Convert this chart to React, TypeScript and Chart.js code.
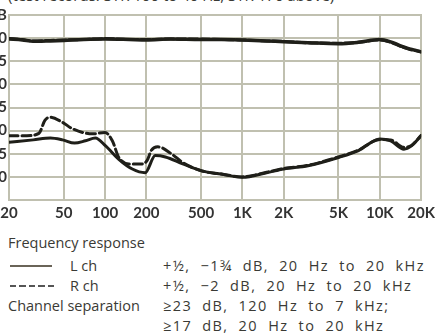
import React, { useEffect, useRef } from "react";
import { Chart, registerables } from "chart.js";

Chart.register(...registerables);

const titleText = "(test records: STR 100 to 40 Hz, STR 170 above)";

const xTickValues = [20, 50, 100, 200, 500, 1000, 2000, 5000, 10000, 20000];
const xTickLabels = ["20", "50", "100", "200", "500", "1K", "2K", "5K", "10K", "20K"];

const yTickValues = [5, 0, -5, -10, -15, -20, -25, -30, -35];
const yTickLabels = ["dB", "0", "\u22125", "\u221210", "\u221215", "\u221220", "\u221225", "\u221230", ""];

// Frequency response (upper curves)
const respFreqs = [20, 25, 30, 40, 50, 70, 100, 150, 200, 300, 500, 700, 1000, 1500, 2000, 3000, 5000, 7000, 10000, 12000, 14000, 16000, 18000, 20000];
const respL = [-0.2, -0.4, -0.7, -0.6, -0.5, -0.3, -0.2, -0.3, -0.4, -0.2, -0.3, -0.3, -0.4, -0.6, -0.8, -1.0, -1.2, -0.9, -0.3, -0.8, -1.6, -2.2, -2.6, -3.0];
const respR = [-0.1, -0.3, -0.6, -0.5, -0.4, -0.3, -0.1, -0.3, -0.3, -0.2, -0.2, -0.3, -0.4, -0.6, -0.7, -1.0, -1.1, -0.9, -0.4, -0.9, -1.7, -2.3, -2.7, -2.9];

// Channel separation (lower curves)
const sepFreqsL = [20, 30, 40, 49, 60, 72, 85, 101, 126, 158, 196, 232, 275, 368, 505, 700, 1000, 1500, 2000, 3000, 5000, 7000, 10000, 12000, 15000, 17000, 20000];
const sepL = [-22.5, -22.0, -21.6, -22.0, -22.7, -22.2, -21.6, -23.3, -26.2, -28.3, -29.1, -25.4, -25.7, -27.2, -28.7, -29.4, -30.1, -29.1, -28.3, -27.6, -25.8, -24.3, -21.8, -22.2, -24.0, -23.3, -21.1];

const sepFreqsR = [20, 27, 33, 36.5, 39.6, 49, 58, 81, 100, 113, 126, 149, 186, 202, 218, 242, 307, 368, 505, 700, 1000, 1500, 2000, 3000, 5000, 7000, 10000, 12000, 15000, 17000, 20000];
const sepR = [-21.1, -21.1, -20.6, -17.8, -17.1, -18.2, -19.6, -20.7, -20.4, -22.2, -25.8, -27.2, -27.2, -26.5, -24.2, -23.5, -25.1, -26.9, -28.7, -29.4, -30.0, -29.0, -28.2, -27.5, -25.7, -24.2, -21.9, -22.0, -23.6, -23.2, -21.0];

const LINE = "#1f1f19";
const GRID = "#c0c0b0";

function pts(xs: number[], ys: number[]) {
  return xs.map((x, i) => ({ x, y: ys[i] }));
}

// Draws the paper grid from the chart's own scales, beneath the curves (pixel-aligned 2px lines)
const paperGrid = {
  id: "paperGrid",
  beforeDatasetsDraw(chart: any) {
    const { ctx, chartArea, scales } = chart;
    const left = Math.round(chartArea.left);
    const right = Math.round(chartArea.right);
    const top = Math.round(chartArea.top);
    const bottom = Math.round(chartArea.bottom);
    ctx.save();
    ctx.strokeStyle = GRID;
    ctx.lineWidth = 2;
    ctx.lineCap = "square";
    ctx.beginPath();
    xTickValues.forEach((v) => {
      const px = Math.round(scales.x.getPixelForValue(v));
      ctx.moveTo(px, top);
      ctx.lineTo(px, bottom);
    });
    yTickValues.forEach((v) => {
      const py = Math.round(scales.y.getPixelForValue(v));
      ctx.moveTo(left, py);
      ctx.lineTo(right, py);
    });
    ctx.stroke();
    ctx.restore();
  },
};

export default function App() {
  const ref = useRef<HTMLCanvasElement | null>(null);

  useEffect(() => {
    if (!ref.current) return;
    const common = {
      showLine: true,
      pointRadius: 0,
      borderColor: LINE,
      backgroundColor: LINE,
      fill: false,
      cubicInterpolationMode: "monotone" as const,
      borderCapStyle: "round" as const,
    };
    const chart = new Chart(ref.current, {
      type: "line",
      data: {
        datasets: [
          { ...common, label: "L ch response", data: pts(respFreqs, respL), borderWidth: 3.5 },
          { ...common, label: "R ch response", data: pts(respFreqs, respR), borderWidth: 3, borderDash: [9, 3] },
          { ...common, label: "L ch separation", data: pts(sepFreqsL, sepL), borderWidth: 3 },
          { ...common, label: "R ch separation", data: pts(sepFreqsR, sepR), borderWidth: 3, borderDash: [9, 4] },
        ],
      },
      options: {
        animation: false,
        responsive: false,
        layout: { padding: { top: 15, right: 14, left: 0, bottom: 0 } },
        plugins: { legend: { display: false }, title: { display: false }, tooltip: { enabled: false } },
        scales: {
          x: {
            type: "logarithmic",
            min: 20,
            max: 20000,
            afterBuildTicks: (scale: any) => {
              scale.ticks = xTickValues.map((v) => ({ value: v }));
            },
            afterFit: (scale: any) => {
              scale.height = 30;
            },
            ticks: {
              autoSkip: false,
              maxRotation: 0,
              padding: 4,
              color: "#333",
              font: { family: "Lato", size: 15, weight: "bold" },
              callback: (v: any) => {
                const i = xTickValues.indexOf(Number(v));
                return i >= 0 ? xTickLabels[i] : "";
              },
            },
            grid: { display: false, drawTicks: false, tickLength: 0 },
            border: { display: false },
          },
          y: {
            type: "linear",
            min: -35,
            max: 5,
            afterBuildTicks: (scale: any) => {
              scale.ticks = yTickValues.map((v) => ({ value: v }));
            },
            afterFit: (scale: any) => {
              scale.width = 40;
            },
            ticks: {
              padding: 2,
              color: "#333",
              font: { family: "Lato", size: 15, weight: "bold" },
              callback: (v: any) => {
                const i = yTickValues.indexOf(Number(v));
                return i >= 0 ? yTickLabels[i] : "";
              },
            },
            grid: { display: false, drawTicks: false, tickLength: 0 },
            border: { display: false },
          },
        },
      },
      plugins: [paperGrid],
    } as any);
    return () => chart.destroy();
  }, []);

  const leftStyle: React.CSSProperties = {
    position: "absolute",
    fontFamily: "'Open Sans', sans-serif",
    fontSize: 14.5,
    color: "#3a3a35",
    whiteSpace: "nowrap",
    lineHeight: "20px",
  };
  const rightStyle: React.CSSProperties = {
    ...leftStyle,
    fontSize: 14.5,
    letterSpacing: "1.4px",
    wordSpacing: "5px",
  };

  const rows: [number, string, string][] = [
    [256, "", "+\u00bd, \u22121\u00be dB, 20 Hz to 20 kHz"],
    [276, "", "+\u00bd, \u22122 dB, 20 Hz to 20 kHz"],
    [296, "Channel separation", "\u226523 dB, 120 Hz to 7 kHz;"],
    [316, "", "\u226517 dB, 20 Hz to 20 kHz"],
  ];

  return (
    <div style={{ position: "fixed", left: 0, top: 0, width: 439, height: 336, overflow: "hidden", background: "#fff" }}>
      <div style={{ ...leftStyle, fontSize: 15, left: 8, top: -15 }}>{titleText}</div>
      <canvas ref={ref} width={470} height={230} style={{ position: "absolute", left: -31, top: 0, width: 470, height: 230 }} />
      <div style={{ ...leftStyle, left: 8, top: 233 }}>Frequency response</div>
      <div style={{ position: "absolute", left: 10, top: 265, width: 42, height: 1.5, background: "#6a6458" }} />
      <div style={{ ...leftStyle, left: 70, top: 256 }}>L ch</div>
      <div
        style={{
          position: "absolute",
          left: 10,
          top: 285,
          width: 44,
          height: 2,
          background: "repeating-linear-gradient(to right, #555 0px, #555 6px, transparent 6px, transparent 9.5px)",
        }}
      />
      <div style={{ ...leftStyle, left: 70, top: 276 }}>R ch</div>
      {rows.map(([top, left, right], i) => (
        <React.Fragment key={i}>
          {left ? <div style={{ ...leftStyle, left: 8, top }}>{left}</div> : null}
          <div style={{ ...rightStyle, left: 163, top }}>{right}</div>
        </React.Fragment>
      ))}
    </div>
  );
}
